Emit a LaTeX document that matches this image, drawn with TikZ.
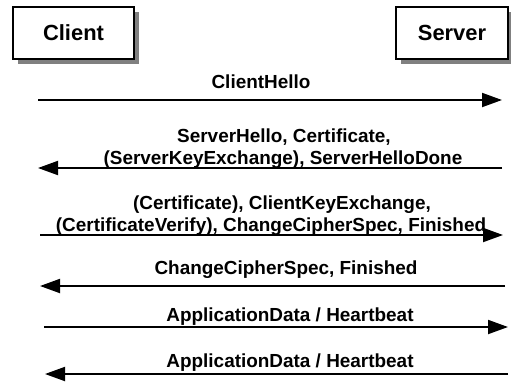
\documentclass[tikz,border=0pt]{standalone}
\usepackage{fontspec}
\setmainfont{Liberation Sans}
\usetikzlibrary{arrows.meta,shadows}
\begin{document}
\begin{tikzpicture}[x=1bp,y=-1bp,
  party/.style={draw=black, line width=1.5bp, fill=white, inner sep=0pt,
    font=\bfseries\fontsize{22}{26}\selectfont,
    drop shadow={shadow xshift=5bp, shadow yshift=-5bp, fill=black!50, opacity=1}},
  msg/.style={line width=1.9bp, -{Triangle[length=20bp,width=14bp]}},
  lbl/.style={font=\bfseries\fontsize{19}{22}\selectfont, inner sep=0pt, anchor=base, align=center}]
\useasboundingbox (0,0) rectangle (511,381);

% participants
\node[party, minimum width=121bp, minimum height=52bp] (client) at (73.5,33) {Client};
\node[party, minimum width=112bp, minimum height=52bp] (server) at (452,33) {Server};

% message end points
\coordinate (c1) at (38,100);  \coordinate (s1) at (502,100);
\coordinate (c2) at (38,168);  \coordinate (s2) at (502,168);
\coordinate (c3) at (40,235);  \coordinate (s3) at (503,235);
\coordinate (c4) at (40,286);  \coordinate (s4) at (505,286);
\coordinate (c5) at (44,327);  \coordinate (s5) at (508,327);
\coordinate (c6) at (45,374);  \coordinate (s6) at (508,374);

% messages
\draw[msg] (c1) -- (s1);
\draw[msg] (s2) -- (c2);
\draw[msg] (c3) -- (s3);
\draw[msg] (s4) -- (c4);
\draw[msg] (c5) -- (s5);
\draw[msg] (s6) -- (c6);

% labels
\node[lbl] (m1) at (261,88) {ClientHello};
\node[lbl] (m2a) at (284,142) {ServerHello, Certificate,};
\node[lbl] (m2b) at (283,164) {(ServerKeyExchange), ServerHelloDone};
\node[lbl] (m3a) at (282,209) {(Certificate), ClientKeyExchange,};
\node[lbl] (m3b) at (271,231) {(CertificateVerify), ChangeCipherSpec, Finished};
\node[lbl] (m4) at (286,274) {ChangeCipherSpec, Finished};
\node[lbl] (m5) at (290,321) {ApplicationData / Heartbeat};
\node[lbl] (m6) at (290,367) {ApplicationData / Heartbeat};
\end{tikzpicture}
\end{document}
